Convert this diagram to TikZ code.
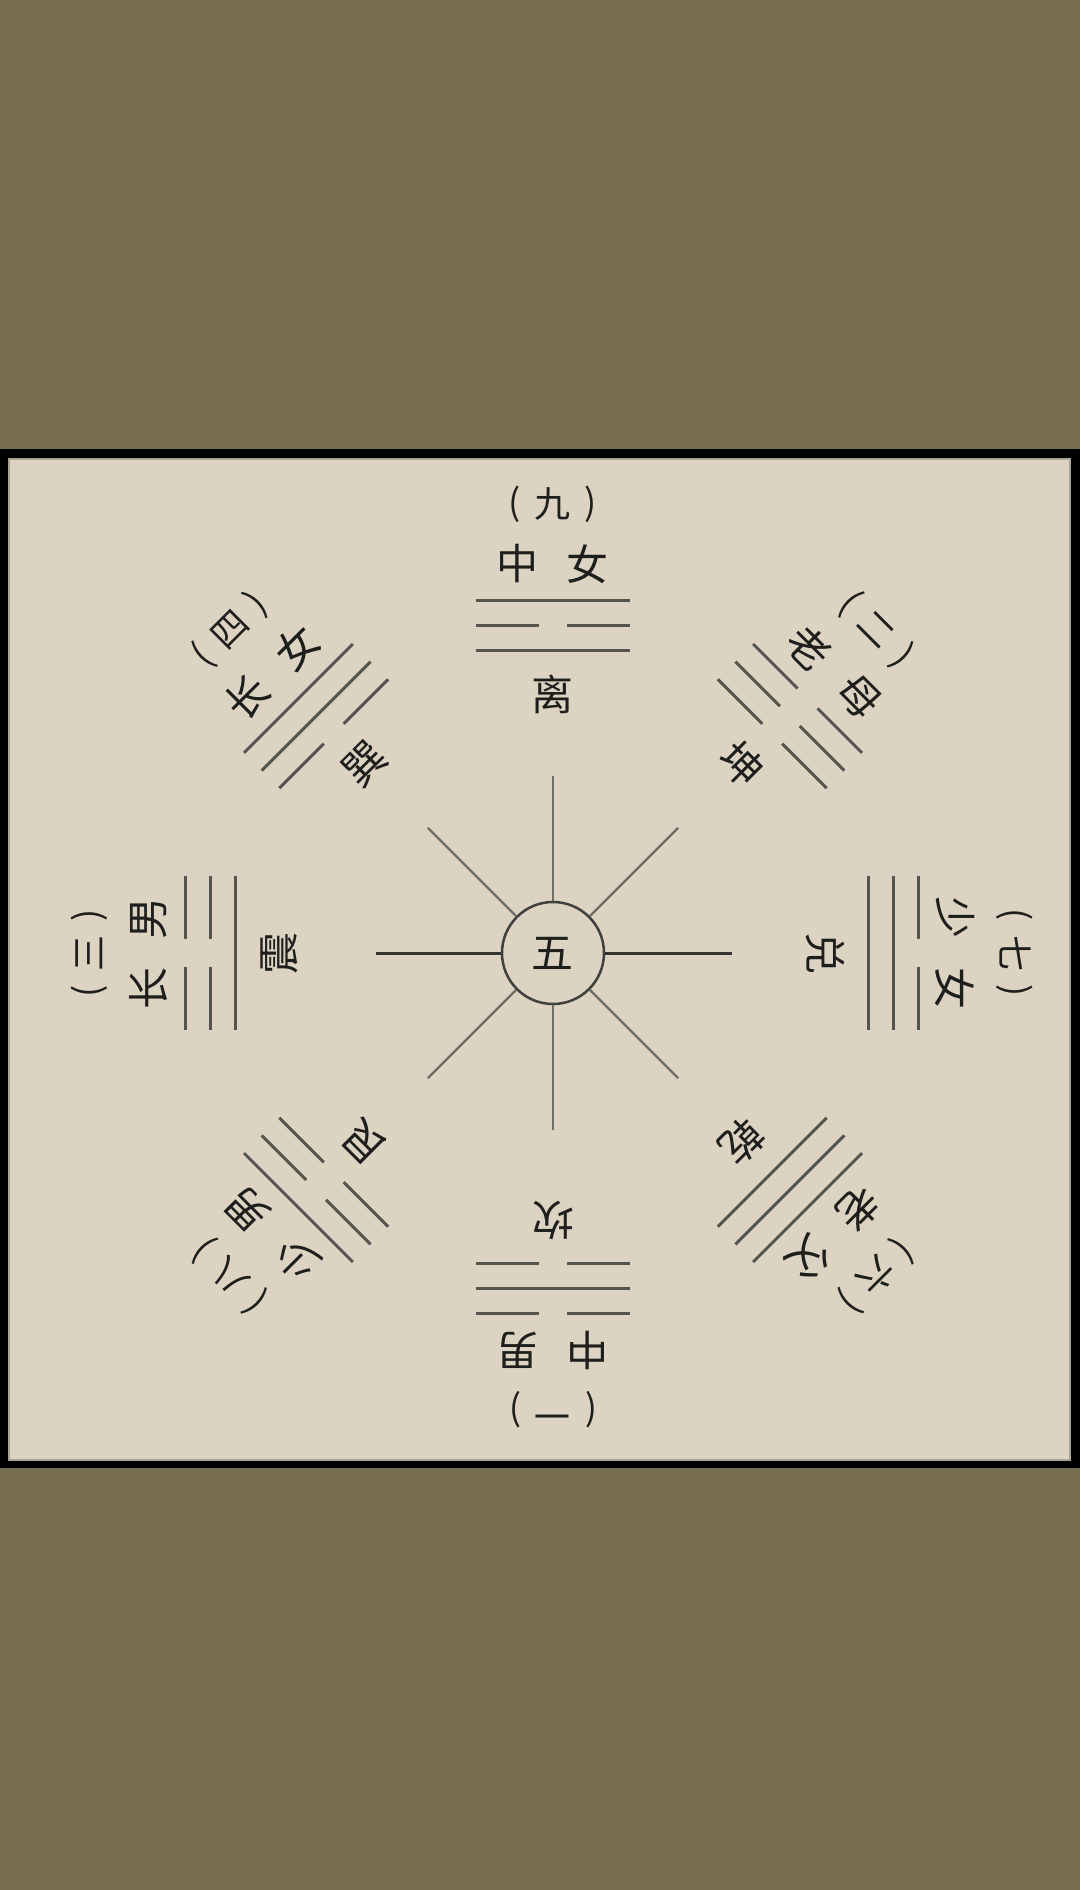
\documentclass[tikz,border=0pt]{standalone}
\usepackage{fontspec}
\newfontfamily\cjk{Noto Sans CJK SC}
\usepackage{tikz}
\definecolor{bgolive}{HTML}{766C4E}
\definecolor{paper}{HTML}{DCD3C2}
\definecolor{paperedge}{HTML}{A9A496}
\definecolor{ink}{HTML}{1E1E1C}
\definecolor{yaocol}{HTML}{55554F}
\definecolor{raycol}{HTML}{6E6D66}
\newcommand{\yangyao}[1]{\draw[yao] (-77,#1) -- (77,#1);}
\newcommand{\yinyao}[1]{\draw[yao] (-77,#1) -- (-14,#1) (14,#1) -- (77,#1);}

\begin{document}
\begin{tikzpicture}[x=1pt, y=1pt,
  yao/.style={line width=3pt, draw=yaocol},
  ray/.style={line width=2.2pt, draw=raycol},
  gua/.style={font=\cjk\fontsize{42}{48}\selectfont, text=ink, inner sep=0pt},
  num/.style={font=\cjk\fontsize{36}{40}\selectfont, text=ink, inner sep=0pt}]
\useasboundingbox (-553,-937) rectangle (527,953);
\fill[bgolive] (-553,-937) rectangle (527,953);
\fill[black] (-553,-515) rectangle (527,504);
\filldraw[fill=paper, draw=paperedge, line width=1.5pt] (-544,-507) rectangle (517,494);

\node[gua, circle, draw=ink!85, line width=2.5pt, minimum size=102pt] (five) at (0,0) {五};
\coordinate (rN) at (90:177);
\coordinate (rNE) at (45:177);
\coordinate (rE) at (0:179);
\coordinate (rSE) at (-45:177);
\coordinate (rS) at (-90:177);
\coordinate (rSW) at (-135:177);
\coordinate (rW) at (180:177);
\coordinate (rNW) at (135:177);
\draw[ray] (five) -- (rN);
\draw[ray] (five) -- (rNE);
\draw[ray] (five) -- (rSE);
\draw[ray] (five) -- (rS);
\draw[ray] (five) -- (rSW);
\draw[ray] (five) -- (rNW);
\draw[ray, line width=3pt, draw=ink!90] (five) -- (rE);
\draw[ray, line width=3pt, draw=ink!90] (five) -- (rW);

\begin{scope}[rotate=0, yshift=-8pt, transform shape]
\node[gua] (li) at (0,267) {离};
\node[gua] (lil) at (-35,397) {中};
\node[gua] (lir) at (35,397) {女};
\node[num] (lipl) at (-38,457) {(};
\node[num] (linum) at (0,457) {九};
\node[num] (lipr) at (38,457) {)};
\yangyao{310} \yinyao{335} \yangyao{360}
\end{scope}

\begin{scope}[rotate=45, transform shape]
\node[gua] (xun) at (0,267) {巽};
\node[gua] (xunl) at (-35,397) {长};
\node[gua] (xunr) at (35,397) {女};
\node[num] (xunpl) at (-38,457) {(};
\node[num] (xunnum) at (0,457) {四};
\node[num] (xunpr) at (38,457) {)};
\yinyao{310} \yangyao{335} \yangyao{360}
\end{scope}

\begin{scope}[rotate=90, yshift=7pt, transform shape]
\node[gua] (zhen) at (0,267) {震};
\node[gua] (zhenl) at (-35,397) {长};
\node[gua] (zhenr) at (35,397) {男};
\node[num] (zhenpl) at (-38,457) {(};
\node[num] (zhennum) at (0,457) {三};
\node[num] (zhenpr) at (38,457) {)};
\yangyao{310} \yinyao{335} \yinyao{360}
\end{scope}

\begin{scope}[rotate=135, transform shape]
\node[gua] (gen) at (0,267) {艮};
\node[gua] (genl) at (-35,397) {少};
\node[gua] (genr) at (35,397) {男};
\node[num] (genpl) at (-38,457) {(};
\node[num] (gennum) at (0,457) {八};
\node[num] (genpr) at (38,457) {)};
\yinyao{310} \yinyao{335} \yangyao{360}
\end{scope}

\begin{scope}[rotate=180, transform shape]
\node[gua] (kan) at (0,267) {坎};
\node[gua] (kanl) at (-35,397) {中};
\node[gua] (kanr) at (35,397) {男};
\node[num] (kanpl) at (-38,457) {(};
\node[num] (kannum) at (0,457) {一};
\node[num] (kanpr) at (38,457) {)};
\yinyao{310} \yangyao{335} \yinyao{360}
\end{scope}

\begin{scope}[rotate=-135, transform shape]
\node[gua] (qian) at (0,267) {乾};
\node[gua] (qianl) at (-35,397) {老};
\node[gua] (qianr) at (35,397) {父};
\node[num] (qianpl) at (-38,457) {(};
\node[num] (qiannum) at (0,457) {六};
\node[num] (qianpr) at (38,457) {)};
\yangyao{310} \yangyao{335} \yangyao{360}
\end{scope}

\begin{scope}[rotate=-90, yshift=5pt, transform shape]
\node[gua] (dui) at (0,267) {兑};
\node[gua] (duil) at (-35,397) {少};
\node[gua] (duir) at (35,397) {女};
\node[num] (duipl) at (-38,457) {(};
\node[num] (duinum) at (0,457) {七};
\node[num] (duipr) at (38,457) {)};
\yangyao{310} \yangyao{335} \yinyao{360}
\end{scope}

\begin{scope}[rotate=-45, transform shape]
\node[gua] (kun) at (0,267) {坤};
\node[gua] (kunl) at (-35,397) {老};
\node[gua] (kunr) at (35,397) {母};
\node[num] (kunpl) at (-38,457) {(};
\node[num] (kunnum) at (0,457) {二};
\node[num] (kunpr) at (38,457) {)};
\yinyao{310} \yinyao{335} \yinyao{360}
\end{scope}

\end{tikzpicture}
\end{document}
